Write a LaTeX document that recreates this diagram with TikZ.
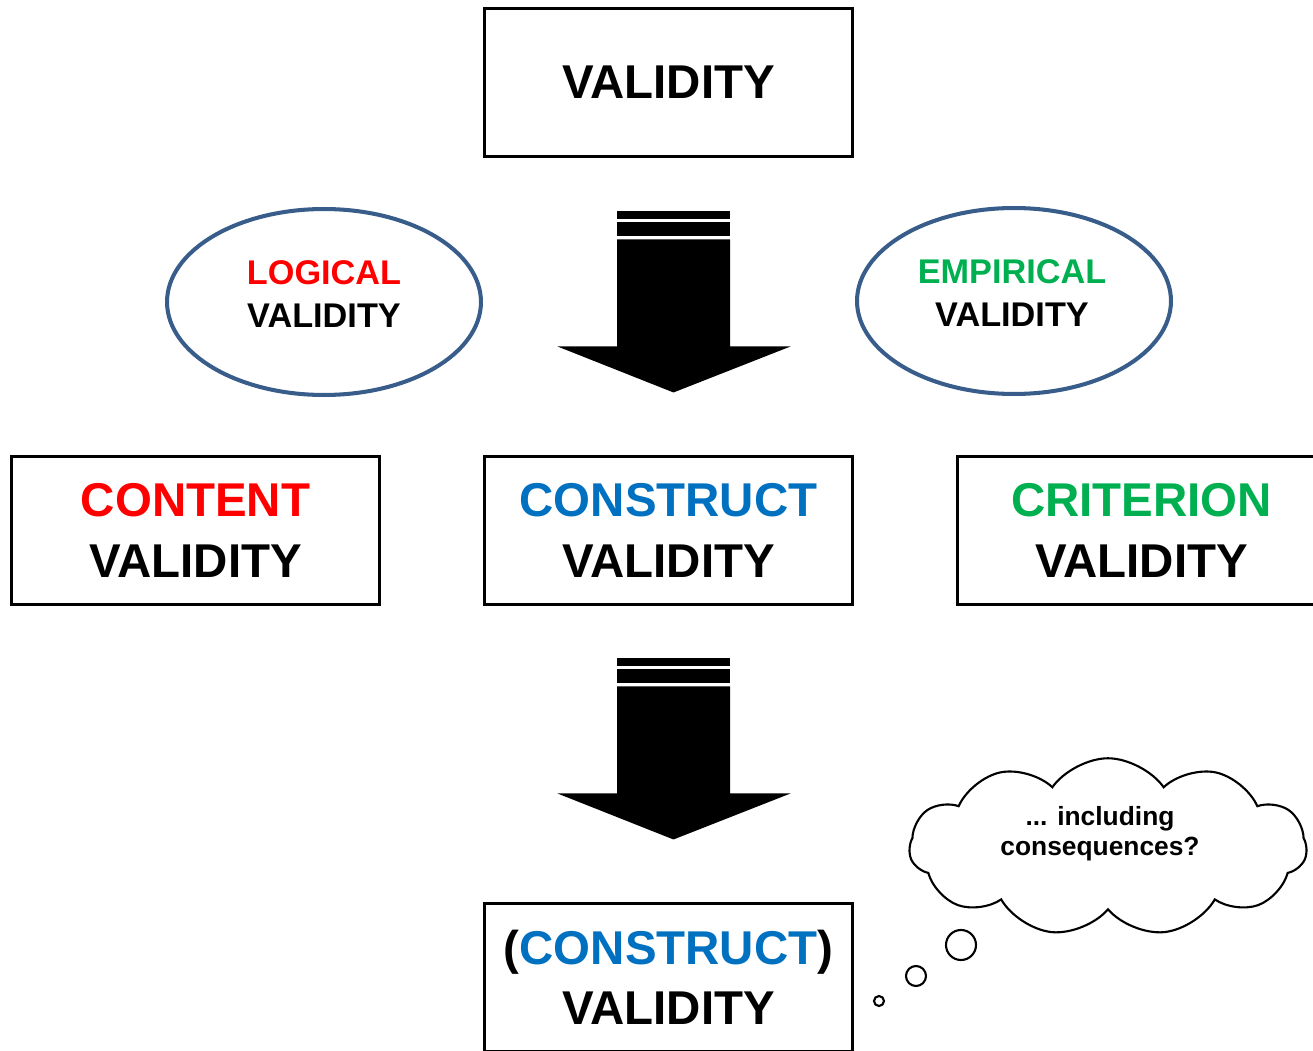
\documentclass[tikz,border=0pt]{standalone}
\usepackage{fontspec}
\setmainfont{Liberation Sans}
\usetikzlibrary{shapes.geometric,shapes.symbols}

\definecolor{logicred}{RGB}{255,0,0}
\definecolor{constructblue}{RGB}{0,112,192}
\definecolor{empiricgreen}{RGB}{0,176,80}
\definecolor{ovalblue}{RGB}{56,93,138}

\tikzset{
	vbox/.style={draw, line width=1.7pt, minimum width=7.38cm, minimum height=2.98cm, align=center, font=\bfseries\fontsize{27}{34.5}\selectfont},
	oval/.style={ellipse, draw=ovalblue, line width=2.3pt, minimum width=6.28cm, minimum height=3.72cm, inner sep=0pt},
	ovaltext/.style={align=center, font=\bfseries\fontsize{19.5}{24}\selectfont},
	bubble/.style={circle, draw, line width=1.2pt, inner sep=0pt},
	% striped block arrow, origin at the top middle of its shaft
	downarrow/.pic={
		\fill (-56.5,0) rectangle (56.5,8);
		\fill (-56.5,11) rectangle (56.5,25);
		\fill (-56.5,28) -- (56.5,28) -- (56.5,135) -- (117,135) -- (0,181) -- (-116,135) -- (-56.5,135) -- cycle;
	}
}

\begin{document}
\begin{tikzpicture}[x=0.02cm, y=-0.02cm]
	\useasboundingbox (0,0) rectangle (1313,1051);
	% Boxes and ovals:
	\node[vbox] (valid) at (668.5,82.5) {VALIDITY};
	\node[oval] (logic) at (324,302) {};
	\node[ovaltext] (logictext) at ([shift={(0,-8)}]logic.center) {\textcolor{logicred}{LOGICAL}\\VALIDITY};
	\node[oval] (empir) at (1014,301) {};
	\node[ovaltext] (empirtext) at ([shift={(-2,-8)}]empir.center) {\textcolor{empiricgreen}{EMPIRICAL}\\VALIDITY};
	\node[vbox] (content) at (195.5,530.5) {\textcolor{logicred}{CONTENT}\\VALIDITY};
	\node[vbox] (construct) at (668.5,530.5) {\textcolor{constructblue}{CONSTRUCT}\\VALIDITY};
	\node[vbox] (criterion) at (1141.5,530.5) {\textcolor{empiricgreen}{CRITERION}\\VALIDITY};
	\node[vbox] (final) at (668.5,977.5) {(\textcolor{constructblue}{CONSTRUCT})\\VALIDITY};
	% Arrows:
	\path (valid.south) ++(5,53) pic {downarrow};
	\path (construct.south) ++(5,52) pic {downarrow};
	% Thought cloud:
	\node[cloud, draw, line width=1.2pt, cloud puffs=11, cloud puff arc=110, aspect=2.2, minimum width=7.95cm, minimum height=3.55cm] (thought) at (1108,847) {};
	\node[align=center, font=\bfseries\fontsize{15}{17}\selectfont] (thoughttext) at ([shift={(-8,-13)}]thought.center) {... including\\consequences?};
	\node[bubble, minimum size=0.6cm] (b1) at (961,945) {};
	\node[bubble, minimum size=0.4cm] (b2) at (916,976) {};
	\node[bubble, minimum size=0.2cm] (b3) at (879,1001) {};
\end{tikzpicture}
\end{document}
